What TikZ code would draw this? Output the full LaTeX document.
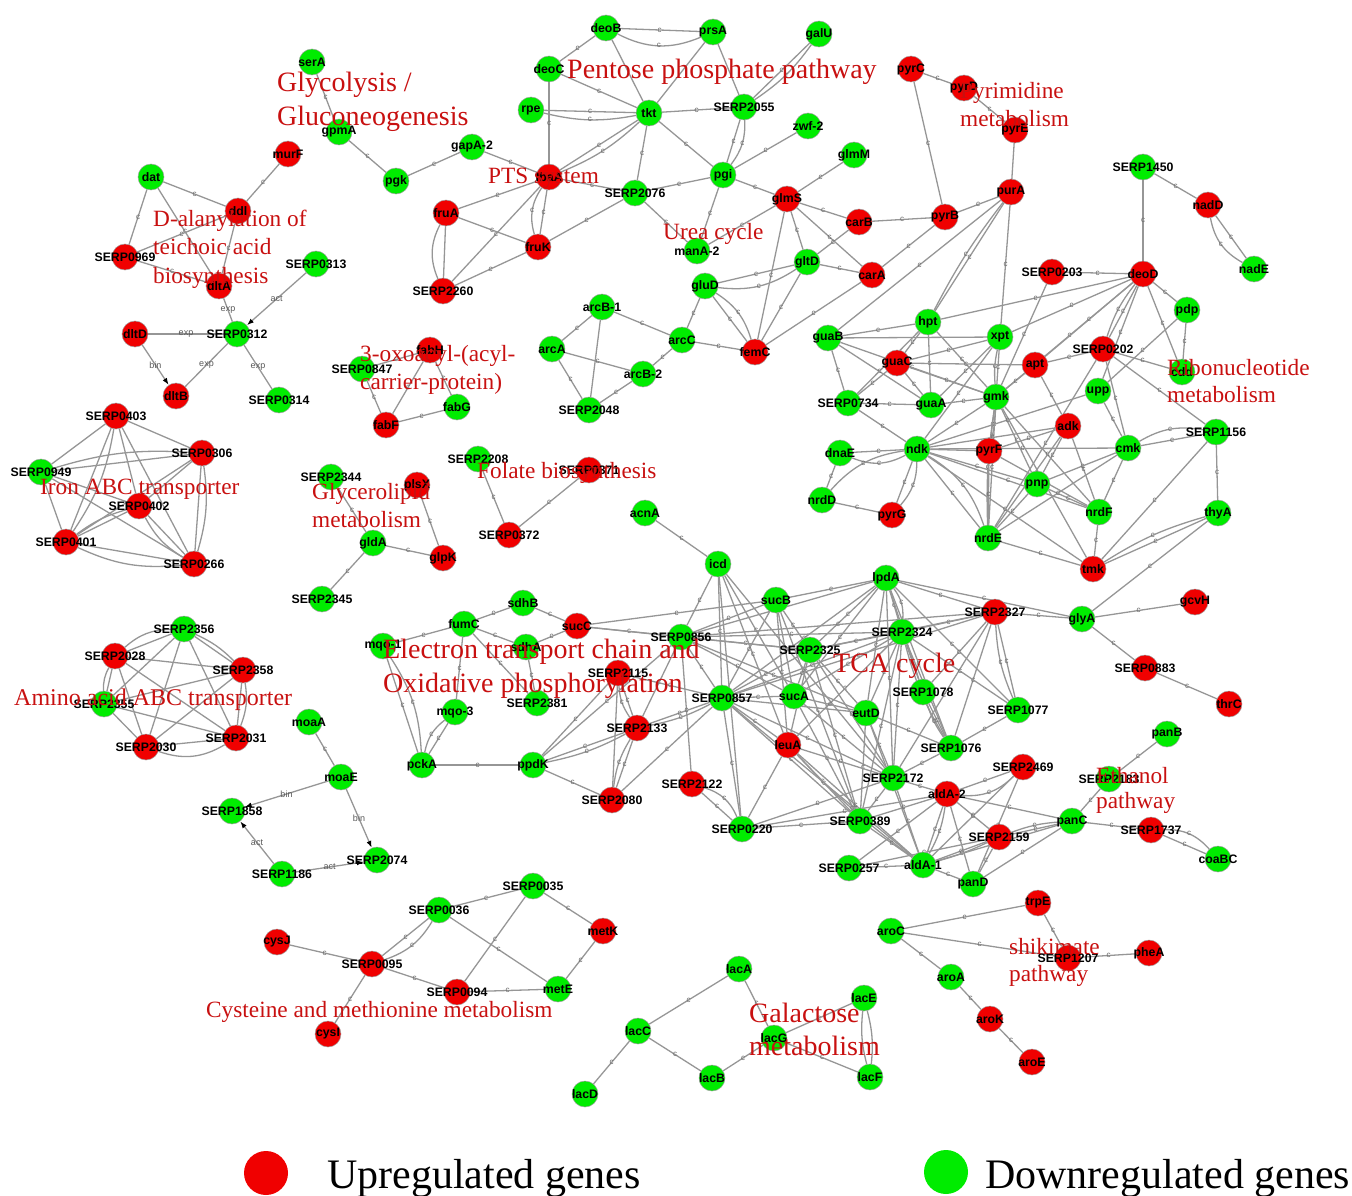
\documentclass[tikz,border=0pt]{standalone}
\usepackage{fontspec}
\setmainfont{Liberation Serif}
\setsansfont{Liberation Sans}
\usetikzlibrary{backgrounds,arrows.meta}
\definecolor{upr}{RGB}{240,0,0}
\definecolor{dngr}{RGB}{0,236,0}
\definecolor{edg}{RGB}{150,150,150}
\definecolor{pathred}{RGB}{200,16,16}
\tikzset{
  gene/.style={circle,minimum size=26pt,inner sep=0pt,draw=gray!75,line width=0.5pt},
  upg/.style={gene,fill=upr},
  downg/.style={gene,fill=dngr},
  lab/.style={font=\sffamily\bfseries\fontsize{12.3}{12}\selectfont,inner sep=0pt,text=black},
  ed/.style={draw=edg,line width=1.3pt},
  cl/.style={font=\sffamily\fontsize{8}{8}\selectfont,text=gray!85!black,inner sep=0pt},
  rl/.style={font=\sffamily\fontsize{9}{9}\selectfont,text=gray!70!black,inner sep=0pt},
  ptxt/.style={font=\fontsize{23.3}{28}\selectfont,text=pathred,anchor=base west,inner sep=0pt},
  bigptxt/.style={ptxt,font=\fontsize{28}{34}\selectfont},
  legtxt/.style={font=\fontsize{42}{42}\selectfont,text=black,anchor=base west,inner sep=0pt},
  legdot/.style={circle,minimum size=44pt,inner sep=0pt}
}
\newcommand\gU[2]{\node[upg,label={[lab]center:#1}] (#1) at (#2) {};}
\newcommand\gD[2]{\node[downg,label={[lab]center:#1}] (#1) at (#2) {};}
\newcommand\ecc[3][]{\draw[ed,#1] (#2) to node[cl]{c} (#3);}
\newcommand\enn[3][]{\draw[ed,#1] (#2) to (#3);}
\newcommand\enl[3]{\draw[ed] (#1) to node[rl]{#3} (#2);}
\newcommand\eaa[3]{\draw[ed,-{Latex[length=7pt,width=5pt,color=black]}] (#1) to node[rl]{#3} (#2);}
\begin{document}
\begin{tikzpicture}[x=1pt,y=-1pt]
\useasboundingbox (0,0) rectangle (1352,1196);
% ---------- upregulated ----------
\gU{murF}{288,154} \gU{ddl}{238,211} \gU{SERP0969}{125,257} \gU{dltA}{219,286}
\gU{dltD}{135,334} \gU{dltB}{176,396} \gU{fabH}{430,350} \gU{fabF}{386,425}
\gU{plsX}{417,485} \gU{glpK}{443,558} \gU{SERP0371}{589,470} \gU{SERP0372}{509,535}
\gU{SERP0403}{116,416} \gU{SERP0306}{202,453} \gU{SERP0402}{139,506} \gU{SERP0401}{66,542}
\gU{SERP0266}{194,564} \gU{SERP2028}{115,656} \gU{SERP2358}{243,670} \gU{SERP2030}{146,747}
\gU{SERP2031}{236,738} \gU{fbaA}{549,177} \gU{fruA}{446,213} \gU{fruK}{538,247}
\gU{SERP2260}{443,291} \gU{glmS}{787,199} \gU{carB}{859,222} \gU{carA}{872,275}
\gU{femC}{755,352} \gU{pyrC}{911,69} \gU{pyrD}{964,88} \gU{pyrE}{1015,130}
\gU{purA}{1011,192} \gU{pyrB}{945,217} \gU{nadD}{1208,205} \gU{SERP0203}{1052,272}
\gU{deoD}{1143,274} \gU{guaC}{897,363} \gU{apt}{1035,365} \gU{SERP0202}{1103,349}
\gU{adk}{1068,426} \gU{pyrF}{989,451} \gU{pyrG}{892,515} \gU{tmk}{1093,569}
\gU{sucC}{577,626} \gU{SERP2115}{618,673} \gU{SERP2133}{637,728} \gU{SERP2080}{612,800}
\gU{SERP2122}{692,784} \gU{leuA}{788,745} \gU{SERP2327}{995,612} \gU{gcvH}{1195,602}
\gU{SERP0883}{1145,668} \gU{thrC}{1229,704} \gU{SERP2469}{1023,767} \gU{aldA-2}{947,794}
\gU{SERP2159}{999,837} \gU{SERP1737}{1151,830} \gU{trpE}{1038,903} \gU{SERP1207}{1068,958}
\gU{pheA}{1149,953} \gU{aroK}{990,1019} \gU{aroE}{1032,1062} \gU{cysJ}{277,942}
\gU{SERP0095}{372,964} \gU{cysI}{328,1034} \gU{SERP0094}{457,992} \gU{metK}{603,931}
% ---------- downregulated ----------
\gD{serA}{312,62} \gD{gpmA}{339,132} \gD{pgk}{396,181} \gD{gapA-2}{472,147}
\gD{dat}{151,177} \gD{SERP0313}{316,264} \gD{SERP0312}{237,334} \gD{SERP0314}{279,400}
\gD{SERP0847}{362,369} \gD{fabG}{457,407} \gD{SERP2344}{331,477} \gD{gldA}{373,543}
\gD{SERP2345}{322,599} \gD{SERP0949}{41,472} \gD{SERP2356}{184,629} \gD{SERP2355}{104,704}
\gD{moaA}{309,722} \gD{moaE}{341,777} \gD{SERP1858}{232,811} \gD{SERP2074}{377,860}
\gD{SERP1186}{282,874} \gD{SERP0036}{439,910} \gD{SERP0035}{533,886} \gD{metE}{558,989}
\gD{deoB}{606,28} \gD{prsA}{713,32} \gD{galU}{819,34} \gD{deoC}{549,69}
\gD{rpe}{531,110} \gD{tkt}{649,113} \gD{SERP2055}{744,107} \gD{zwf-2}{808,126}
\gD{glmM}{854,155} \gD{pgi}{723,175} \gD{SERP2076}{635,193} \gD{manA-2}{697,251}
\gD{gltD}{807,262} \gD{gluD}{705,286} \gD{arcB-1}{602,307} \gD{arcA}{552,349}
\gD{arcC}{682,340} \gD{arcB-2}{643,374} \gD{SERP2048}{589,410} \gD{SERP1450}{1143,167}
\gD{nadE}{1254,269} \gD{pdp}{1187,310} \gD{hpt}{928,322} \gD{xpt}{1000,337}
\gD{guaB}{828,338} \gD{cdd}{1182,372} \gD{upp}{1098,391} \gD{SERP0734}{848,403}
\gD{guaA}{931,405} \gD{gmk}{996,397} \gD{ndk}{917,449} \gD{dnaE}{840,453}
\gD{cmk}{1128,448} \gD{SERP1156}{1216,432} \gD{pnp}{1037,484} \gD{nrdD}{822,500}
\gD{nrdF}{1099,512} \gD{thyA}{1218,513} \gD{nrdE}{988,538} \gD{SERP2208}{478,459}
\gD{acnA}{645,513} \gD{icd}{718,564} \gD{sdhB}{523,603} \gD{fumC}{464,624}
\gD{sdhA}{526,647} \gD{mqo-1}{383,646} \gD{SERP2381}{537,703} \gD{mqo-3}{455,712}
\gD{pckA}{422,765} \gD{ppdK}{533,765} \gD{SERP0856}{681,637} \gD{SERP0857}{722,698}
\gD{sucB}{776,600} \gD{lpdA}{886,578} \gD{SERP2325}{810,650} \gD{SERP2324}{902,632}
\gD{sucA}{794,696} \gD{eutD}{866,713} \gD{SERP1078}{923,692} \gD{SERP1077}{1018,710}
\gD{SERP1076}{951,748} \gD{SERP2172}{893,778} \gD{SERP0220}{742,829} \gD{SERP0389}{860,821}
\gD{SERP0257}{849,868} \gD{aldA-1}{923,865} \gD{panD}{973,884} \gD{panC}{1072,821}
\gD{SERP2183}{1109,779} \gD{panB}{1167,734} \gD{coaBC}{1218,859} \gD{glyA}{1082,619}
\gD{aroC}{891,931} \gD{aroA}{951,977} \gD{lacA}{739,969} \gD{lacE}{864,998}
\gD{lacC}{638,1031} \gD{lacG}{774,1038} \gD{lacB}{712,1078} \gD{lacF}{870,1077}
\gD{lacD}{585,1094}
% ---------- connectors ----------
\begin{pgfonlayer}{background}
% glycolysis
\ecc{serA}{gpmA} \ecc{gpmA}{pgk} \ecc{pgk}{gapA-2} \ecc{gapA-2}{fbaA}
% D-alanylation
\ecc{murF}{ddl} \ecc{dat}{ddl} \ecc{dat}{SERP0969} \ecc{dat}{dltA} \ecc{SERP0969}{ddl}
\ecc{SERP0969}{dltA} \ecc{ddl}{dltA}
\enl{dltA}{SERP0312}{exp} \eaa{SERP0313}{SERP0312}{act} \enl{dltD}{SERP0312}{exp}
\eaa{dltD}{dltB}{bin} \enl{SERP0312}{dltB}{exp} \enl{SERP0312}{SERP0314}{exp}
% 3-oxoacyl
\ecc{SERP0847}{fabH} \ecc{SERP0847}{fabF} \ecc{fabH}{fabF} \ecc{fabH}{fabG} \ecc{fabF}{fabG}
% iron ABC
\enn{SERP0403}{SERP0306} \enn{SERP0403}{SERP0949} \enn{SERP0403}{SERP0402} \enn{SERP0403}{SERP0401}
\enn{SERP0403}{SERP0266} \enn{SERP0306}{SERP0949} \enn{SERP0306}{SERP0402} \enn{SERP0306}{SERP0401}
\enn{SERP0306}{SERP0266} \enn{SERP0949}{SERP0402} \enn{SERP0949}{SERP0401} \enn{SERP0949}{SERP0266}
\enn{SERP0402}{SERP0401} \enn{SERP0402}{SERP0266} \enn{SERP0401}{SERP0266}
\enn[bend left=12]{SERP0403}{SERP0401} \enn[bend left=12]{SERP0306}{SERP0266} \enn[bend right=15]{SERP0401}{SERP0266}
\enn[bend left=10]{SERP0949}{SERP0306} \enn[bend right=15]{SERP0402}{SERP0266} \enn[bend left=10]{SERP0401}{SERP0402}
% amino acid ABC
\enn{SERP2356}{SERP2028} \enn{SERP2356}{SERP2358} \enn{SERP2356}{SERP2355} \enn{SERP2356}{SERP2030}
\enn{SERP2356}{SERP2031} \enn{SERP2028}{SERP2358} \enn{SERP2028}{SERP2355} \enn{SERP2028}{SERP2030}
\enn{SERP2028}{SERP2031} \enn{SERP2358}{SERP2355} \enn{SERP2358}{SERP2030} \enn{SERP2358}{SERP2031}
\enn{SERP2355}{SERP2030} \enn{SERP2355}{SERP2031} \enn{SERP2030}{SERP2031}
\enn[bend right=25]{SERP2030}{SERP2031} \enn[bend right=20]{SERP2356}{SERP2028} \enn[bend right=15]{SERP2028}{SERP2355}
\enn[bend left=15]{SERP2358}{SERP2031} \enn[bend left=10]{SERP2356}{SERP2358}
% glycerolipid, folate
\ecc{SERP2344}{gldA} \ecc{plsX}{glpK} \ecc{gldA}{glpK} \ecc{gldA}{SERP2345}
\ecc{SERP2208}{SERP0372} \ecc{SERP0371}{SERP0372}
% moa
\ecc{moaA}{moaE} \eaa{moaE}{SERP1858}{bin} \eaa{moaE}{SERP2074}{bin}
\eaa{SERP1186}{SERP1858}{act} \eaa{SERP1186}{SERP2074}{act}
% cysteine / methionine
\ecc{cysJ}{SERP0095} \ecc{SERP0095}{SERP0036} \ecc[bend right=20]{SERP0095}{SERP0036} \ecc{SERP0095}{cysI}
\ecc{SERP0095}{SERP0094} \ecc{SERP0036}{SERP0035} \ecc{SERP0035}{metK} \ecc{SERP0035}{SERP0094}
\ecc{SERP0036}{metE} \ecc{SERP0094}{metE} \ecc{metK}{metE}
% galactose
\ecc{lacA}{lacC} \ecc{lacA}{lacG} \ecc{lacC}{lacD} \ecc{lacC}{lacB} \ecc{lacB}{lacG}
\ecc{lacG}{lacE} \ecc{lacG}{lacF} \enn[bend left=10]{lacE}{lacF} \enn[bend right=10]{lacE}{lacF}
% shikimate
\ecc{trpE}{aroC} \ecc{trpE}{SERP1207} \ecc{aroC}{SERP1207} \ecc{aroC}{aroA} \ecc{aroA}{aroK}
\ecc{aroK}{aroE} \ecc{SERP1207}{pheA}
% pentose phosphate, PTS, urea cycle
\ecc{deoB}{prsA} \ecc[bend right=25]{deoB}{prsA} \ecc{deoB}{deoC} \enn{deoB}{tkt} \enn{prsA}{tkt}
\enn{prsA}{SERP2055} \ecc{galU}{SERP2055} \ecc[bend left=10]{galU}{SERP2055}
\ecc{deoC}{tkt} \ecc{deoC}{fbaA} \ecc{rpe}{tkt} \ecc[bend right=12]{rpe}{tkt} \ecc{tkt}{SERP2055}
\ecc{tkt}{fbaA} \ecc[bend left=10]{tkt}{fbaA} \ecc{tkt}{SERP2076} \ecc{tkt}{pgi} \ecc{SERP2055}{pgi}
\ecc[bend left=20]{SERP2055}{pgi} \ecc{zwf-2}{pgi} \ecc{glmM}{glmS} \ecc{fbaA}{SERP2076}
\ecc{fbaA}{fruA} \ecc{fbaA}{fruK} \ecc[bend right=25]{fbaA}{fruK} \ecc{fbaA}{SERP2260}
\ecc{fruA}{fruK} \enn{fruA}{SERP2260} \enn[bend right=25]{fruA}{SERP2260} \ecc{fruK}{SERP2260}
\ecc{fruK}{SERP2076} \ecc{SERP2076}{pgi} \ecc{SERP2076}{manA-2} \ecc{pgi}{manA-2} \ecc{pgi}{glmS}
\ecc{glmS}{carB} \ecc{glmS}{carA} \ecc{glmS}{gltD} \ecc{glmS}{femC} \ecc{glmS}{manA-2}
\ecc{carB}{gltD} \ecc{carB}{pyrB} \ecc{pyrB}{carA} \ecc{gltD}{carA} \ecc{gltD}{gluD}
\ecc[bend left=20]{gltD}{gluD} \ecc{gltD}{femC} \ecc{gluD}{femC} \ecc[bend left=20]{gluD}{femC}
\ecc{gluD}{arcC} \ecc{arcC}{femC} \ecc{arcB-1}{arcC} \ecc{arcB-1}{arcA} \enn{arcB-1}{SERP2048}
\ecc{arcA}{arcB-2} \ecc{arcA}{SERP2048} \ecc{arcB-2}{arcC} \ecc{arcB-2}{SERP2048} \ecc{femC}{carA}
% pyrimidine
\ecc{pyrC}{pyrD} \ecc{pyrD}{pyrE} \ecc{pyrC}{pyrB} \enn{pyrE}{purA} \ecc{purA}{pyrB}
\ecc{purA}{hpt} \ecc[bend right=5]{purA}{hpt} \ecc{purA}{xpt} \ecc{purA}{guaB}
% NAD
\ecc{SERP1450}{nadD} \ecc{SERP1450}{deoD} \ecc{nadD}{nadE} \ecc[bend right=25]{nadD}{nadE}
% ribonucleotide
\ecc{SERP0203}{deoD} \ecc{SERP0203}{gmk} \ecc{deoD}{hpt} \ecc{deoD}{xpt} \ecc{deoD}{gmk}
\ecc{deoD}{apt} \ecc{deoD}{SERP0202} \ecc[bend right=10]{deoD}{SERP0202} \ecc{deoD}{pdp}
\ecc{deoD}{cdd} \ecc{deoD}{upp} \ecc{pdp}{cdd} \ecc{pdp}{upp} \ecc{SERP0202}{apt}
\ecc{SERP0202}{cdd} \ecc{SERP0202}{SERP1156} \ecc{SERP0202}{cmk} \ecc{SERP0202}{nrdE}
\ecc{guaB}{hpt} \enn{guaB}{xpt} \ecc{guaB}{guaA} \ecc{guaB}{gmk} \ecc{guaB}{SERP0734}
\ecc{hpt}{guaC} \ecc{hpt}{guaA} \ecc{hpt}{gmk} \ecc{hpt}{SERP0734} \ecc{xpt}{guaC}
\ecc{xpt}{guaA} \ecc{xpt}{gmk} \ecc[bend right=8]{xpt}{gmk} \ecc{xpt}{ndk} \ecc{guaC}{apt}
\ecc{guaC}{guaA} \ecc{guaC}{gmk} \ecc{guaC}{SERP0734} \ecc{SERP0734}{guaA} \ecc{SERP0734}{ndk}
\ecc{guaA}{gmk} \ecc{apt}{gmk} \ecc{apt}{adk} \ecc{gmk}{ndk} \ecc{gmk}{pyrF}
\ecc[bend left=5]{gmk}{pyrF} \ecc{gmk}{nrdE} \ecc[bend right=5]{gmk}{nrdE} \ecc{gmk}{pnp}
\ecc{gmk}{nrdF} \ecc{gmk}{tmk}
\ecc{ndk}{dnaE} \ecc[bend left=25]{ndk}{dnaE} \ecc[bend right=20]{ndk}{nrdD} \ecc{ndk}{pyrG}
\ecc[bend left=20]{ndk}{pyrG} \enn{ndk}{pyrF} \ecc{ndk}{cmk} \ecc{ndk}{pnp} \ecc{ndk}{nrdF}
\ecc{ndk}{nrdE} \ecc[bend left=20]{ndk}{nrdE} \ecc{ndk}{tmk} \ecc{ndk}{adk}
\ecc{dnaE}{nrdD} \ecc{nrdD}{pyrG} \ecc{pyrF}{adk} \ecc{pyrF}{nrdF} \ecc{pyrF}{nrdE}
\ecc{adk}{pnp} \ecc{adk}{nrdF} \ecc{adk}{nrdE} \ecc{upp}{cmk} \ecc{upp}{ndk} \ecc{pnp}{cmk}
\ecc{pnp}{nrdF} \ecc{pnp}{nrdE} \ecc{cmk}{nrdE} \ecc{cmk}{nrdF} \ecc{cmk}{SERP1156}
\ecc[bend left=20]{cmk}{SERP1156} \ecc{nrdF}{tmk} \ecc{nrdE}{tmk} \ecc{SERP1156}{tmk}
\ecc{SERP1156}{thyA} \ecc{thyA}{tmk} \ecc[bend right=8]{thyA}{tmk} \ecc{thyA}{glyA}
% electron transport / oxidative phosphorylation
\ecc{sdhB}{fumC} \ecc{sdhB}{sucC} \ecc{fumC}{sdhA} \ecc{fumC}{mqo-1} \ecc{fumC}{SERP2381}
\ecc{fumC}{mqo-3} \ecc{sdhA}{sucC} \ecc{sdhA}{SERP2381} \ecc{sucC}{SERP0856} \ecc{sucC}{sucB}
\ecc{mqo-1}{pckA} \ecc[bend left=15]{mqo-1}{pckA} \ecc{mqo-3}{pckA} \ecc[bend right=20]{mqo-3}{pckA}
\ecc{pckA}{ppdK} \ecc{ppdK}{SERP2080} \ecc{ppdK}{SERP2133} \ecc[bend right=8]{ppdK}{SERP2133}
\ecc{ppdK}{SERP0856} \ecc{ppdK}{SERP2115} \ecc{SERP2115}{SERP2133} \ecc[bend right=15]{SERP2115}{SERP2133}
\enn{SERP2115}{SERP2080} \ecc{SERP2133}{SERP2080} \ecc[bend right=12]{SERP2133}{SERP2080}
\ecc{SERP2080}{SERP0857} \ecc{SERP2133}{SERP0857} \ecc[bend right=8]{SERP2133}{SERP0857}
\ecc{SERP2133}{SERP0856} \ecc{SERP2122}{SERP0856} \ecc{SERP2122}{SERP0220}
\ecc[bend left=25]{SERP2122}{SERP0220} \ecc{acnA}{icd}
% TCA cycle
\ecc{icd}{SERP0856} \ecc{icd}{SERP0857} \ecc{icd}{SERP0220} \ecc{icd}{sucA} \ecc{icd}{SERP2172} \ecc{icd}{leuA}
\ecc{sucB}{lpdA} \ecc{sucB}{SERP0856} \ecc{sucB}{SERP0857} \ecc{sucB}{sucA} \ecc{sucB}{SERP2325}
\ecc{sucB}{leuA} \ecc{sucB}{SERP0389}
\ecc{lpdA}{SERP0856} \ecc{lpdA}{SERP2325} \ecc{lpdA}{SERP2324} \ecc[bend left=20]{lpdA}{SERP2324}
\ecc{lpdA}{SERP2327} \ecc{lpdA}{glyA} \ecc{lpdA}{SERP0857} \ecc{lpdA}{sucA} \ecc{lpdA}{eutD}
\ecc{lpdA}{SERP1078} \ecc{lpdA}{SERP1077} \ecc{lpdA}{SERP1076} \ecc{lpdA}{SERP2172}
\ecc{SERP2327}{SERP0856} \ecc{SERP2327}{SERP2324} \ecc{SERP2327}{SERP2325} \ecc{SERP2327}{glyA}
\ecc{SERP2327}{SERP1078} \ecc{SERP2327}{SERP1077} \ecc[bend right=10]{SERP2327}{SERP1077}
\ecc{SERP2327}{SERP1076} \ecc{SERP2327}{SERP2172} \ecc{SERP2327}{SERP0857}
\ecc{SERP2324}{SERP0856} \ecc{SERP2324}{SERP2325} \ecc{SERP2324}{SERP0857} \ecc{SERP2324}{sucA}
\ecc{SERP2324}{eutD} \ecc{SERP2324}{SERP1078} \ecc{SERP2324}{SERP1077} \ecc{SERP2324}{SERP1076}
\ecc[bend right=8]{SERP2324}{SERP1076} \ecc{SERP2324}{SERP2172} \ecc{SERP2324}{SERP0389} \ecc{SERP2324}{leuA}
\ecc{SERP0856}{SERP2325} \ecc{SERP0856}{SERP0857} \ecc{SERP0856}{sucA} \ecc{SERP0856}{eutD}
\ecc{SERP0857}{SERP2325} \ecc{SERP0857}{sucA} \ecc{SERP0857}{eutD} \ecc{SERP0857}{leuA}
\ecc{SERP0857}{SERP2172} \ecc{SERP0857}{SERP0389} \ecc{SERP0857}{aldA-1} \ecc{SERP0857}{SERP0220}
\ecc{SERP0857}{SERP2115}
\ecc{SERP2325}{sucA} \ecc{SERP2325}{eutD} \ecc{SERP2325}{SERP2172} \ecc{SERP2325}{SERP0389}
\ecc{SERP2325}{leuA} \ecc{SERP2325}{sucC}
\ecc{sucA}{eutD} \ecc{sucA}{SERP2172} \ecc{sucA}{SERP0389}
\ecc{eutD}{SERP2172} \ecc{eutD}{SERP0389} \ecc{eutD}{SERP1076} \ecc{eutD}{aldA-1}
\ecc{leuA}{SERP0220} \ecc{leuA}{SERP0389} \ecc{leuA}{aldA-1} \ecc[bend right=5]{leuA}{aldA-1} \ecc{leuA}{SERP2172}
\ecc{SERP2172}{SERP1076} \ecc{SERP2172}{aldA-2} \ecc{SERP2172}{SERP0389} \ecc{SERP2172}{aldA-1}
\ecc{SERP2172}{SERP0220}
\ecc{SERP1078}{SERP1076} \ecc[bend right=8]{SERP1078}{SERP1076} \ecc{SERP1077}{SERP1076}
\ecc{aldA-2}{SERP2469} \ecc[bend right=25]{aldA-2}{SERP2469} \ecc{aldA-2}{panC} \ecc{aldA-2}{SERP2159}
\ecc{aldA-2}{panD} \ecc{aldA-2}{aldA-1} \ecc[bend left=10]{aldA-2}{aldA-1} \ecc{aldA-2}{SERP0389}
\ecc{aldA-2}{SERP0257} \ecc{aldA-2}{SERP0220}
\ecc{SERP2469}{aldA-1} \ecc{SERP2469}{panD}
\ecc{SERP0389}{SERP0220} \ecc{SERP0389}{aldA-1}
\ecc{SERP0257}{aldA-1} \ecc{SERP0257}{SERP2159}
\ecc{aldA-1}{panD} \ecc{aldA-1}{SERP2159} \ecc[bend right=5]{aldA-1}{SERP2159} \ecc{aldA-1}{panC}
\ecc{SERP2159}{panC} \ecc[bend left=8]{SERP2159}{panC} \ecc{SERP2159}{panD} \ecc{panD}{panC}
% ethanol, glycine
\ecc{panC}{SERP1737} \ecc{SERP1737}{coaBC} \ecc[bend left=25]{SERP1737}{coaBC} \ecc{panC}{SERP2183}
\ecc{SERP2183}{panB} \ecc{glyA}{gcvH} \ecc{glyA}{SERP0883} \ecc{SERP0883}{thrC}
\end{pgfonlayer}
% ---------- pathway labels ----------
\node[bigptxt] (tGly1) at (277,92) {Glycolysis /};
\node[bigptxt] (tGly2) at (277,126) {Gluconeogenesis};
\node[bigptxt] (tPen) at (567,79) {Pentose phosphate pathway};
\node[ptxt] (tPyr1) at (960,99) {Pyrimidine};
\node[ptxt] (tPyr2) at (960,127) {metabolism};
\node[ptxt] (tPTS) at (488,183) {PTS system};
\node[ptxt] (tDal1) at (153,226) {D-alanylation of};
\node[ptxt] (tDal2) at (153,254) {teichoic acid};
\node[ptxt] (tDal3) at (153,283) {biosynthesis};
\node[ptxt] (tUrea) at (663,239) {Urea cycle};
\node[ptxt] (tOxo1) at (360,361) {3-oxoacyl-(acyl-};
\node[ptxt] (tOxo2) at (360,389) {carrier-protein)};
\node[ptxt] (tRib1) at (1167,375) {Ribonucleotide};
\node[ptxt] (tRib2) at (1167,402) {metabolism};
\node[ptxt] (tIron) at (40,494) {Iron ABC transporter};
\node[ptxt] (tGlyc1) at (312,499) {Glycerolipid};
\node[ptxt] (tGlyc2) at (312,527) {metabolism};
\node[ptxt] (tFol) at (477,478) {Folate biosynthesis};
\node[bigptxt] (tEtc1) at (383,658) {Electron transport chain and};
\node[bigptxt] (tEtc2) at (383,692) {Oxidative phosphorylation};
\node[bigptxt] (tTCA) at (833,672) {TCA cycle};
\node[ptxt,font=\fontsize{24}{28}\selectfont] (tAmino) at (14,705) {Amino acid ABC transporter};
\node[ptxt] (tEth1) at (1096,783) {Ethanol};
\node[ptxt] (tEth2) at (1096,808) {pathway};
\node[ptxt] (tShi1) at (1009,954) {shikimate};
\node[ptxt] (tShi2) at (1009,981) {pathway};
\node[ptxt] (tCys) at (206,1017) {Cysteine and methionine metabolism};
\node[bigptxt] (tGal1) at (749,1022) {Galactose};
\node[bigptxt] (tGal2) at (749,1055) {metabolism};
% ---------- legend ----------
\node[legdot,fill=upr] (legU) at (266,1173) {};
\node[legtxt] (legUt) at (327,1188) {Upregulated genes};
\node[legdot,fill=dngr] (legD) at (946,1172) {};
\node[legtxt] (legDt) at (985,1188) {Downregulated genes};
\end{tikzpicture}
\end{document}
